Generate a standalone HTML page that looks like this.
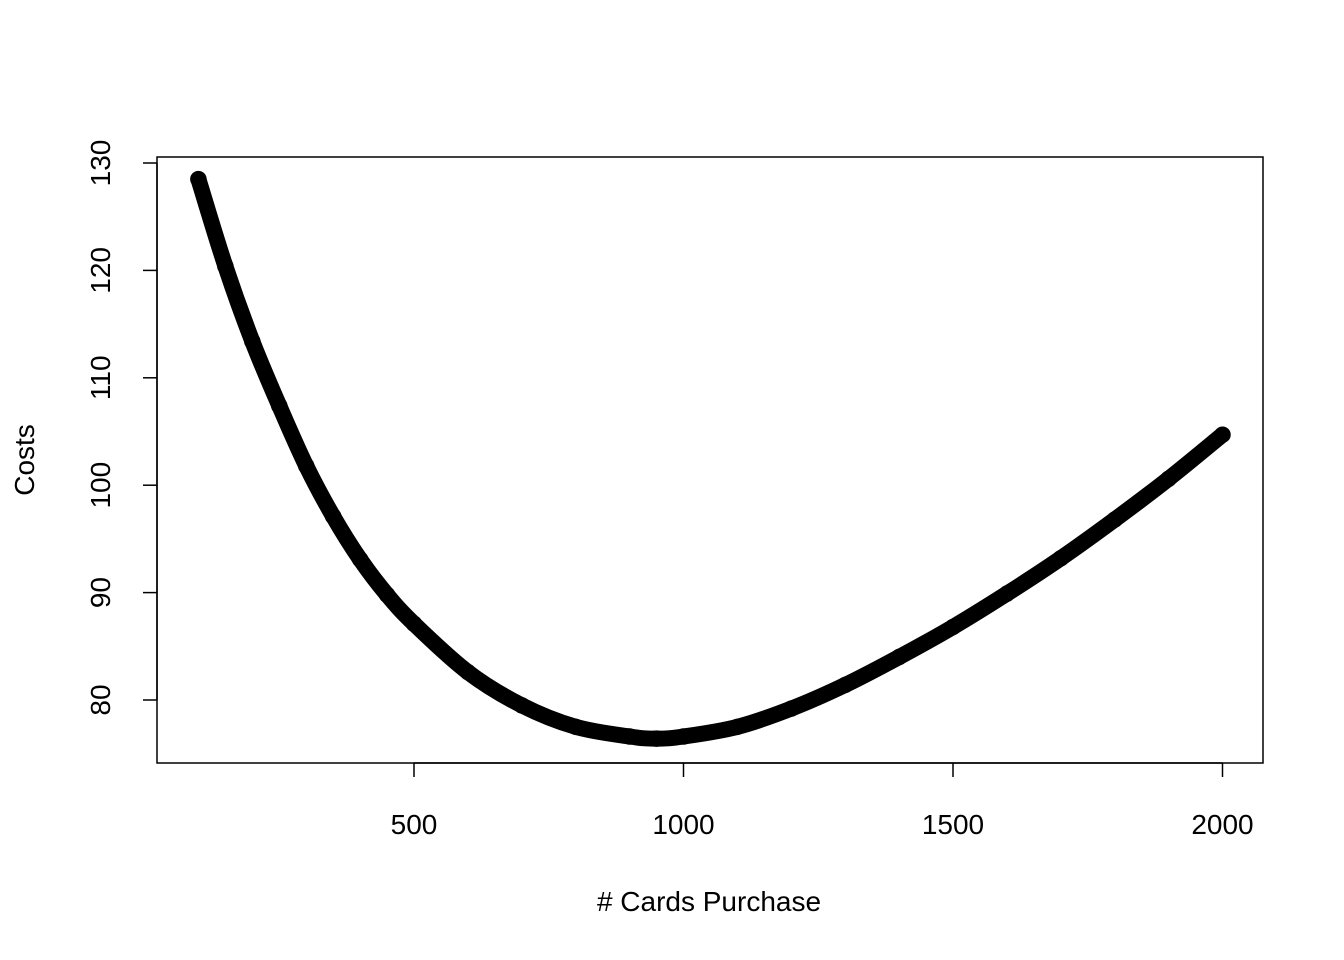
<!DOCTYPE html>
<html><head><meta charset="utf-8"><style>
html,body{margin:0;padding:0;background:#fff;}
svg{display:block;font-family:"Liberation Sans",Arial,sans-serif;}
</style></head><body>
<svg id="chart" width="1344" height="960" viewBox="0 0 1344 960">
<rect x="157" y="157" width="1106" height="606" fill="none" stroke="#000" stroke-width="1.5"/>
<g id="axes"></g>
<g id="marks"></g>
<text x="709" y="911" font-size="28" text-anchor="middle"># Cards Purchase</text>
<text transform="translate(34,460) rotate(-90)" font-size="28" text-anchor="middle">Costs</text>
</svg>
<script>
const quantities=[100,150,200,250,300,350,400,450,500,600,700,800,900,950,1000,1100,1200,1300,1400,1500,1600,1700,1800,1900,2000];
const costs=[128.5,120.4,113.4,107.4,101.8,97.1,93.1,89.8,87.1,82.6,79.5,77.5,76.6,76.4,76.6,77.5,79.2,81.4,84.0,86.8,89.9,93.2,96.8,100.6,104.7];
const xTicks=[500,1000,1500,2000];
const yTicks=[80,90,100,110,120,130];
const NS="http://www.w3.org/2000/svg";
function xs(v){return 414+(v-500)*0.539;}
function ys(v){return 700-(v-80)*10.74;}
const axes=document.getElementById('axes');
function mk(t,a,p){const e=document.createElementNS(NS,t);for(const k in a)e.setAttribute(k,a[k]);p.appendChild(e);return e;}
mk('line',{x1:xs(500),x2:xs(2000),y1:763,y2:763,stroke:'#000','stroke-width':1.5},axes);
xTicks.forEach(t=>{
  const l=mk('line',{x1:xs(t),x2:xs(t),y1:763,y2:777,stroke:'#000','stroke-width':1.5},axes);
  
  
  const tx=mk('text',{x:xs(t),y:834,'font-size':28,'text-anchor':'middle'},axes);
  tx.textContent=t;
  
  
});
mk('line',{x1:157,x2:157,y1:ys(80),y2:ys(130),stroke:'#000','stroke-width':1.5},axes);
yTicks.forEach(t=>{
  const l=mk('line',{x1:143,x2:157,y1:ys(t),y2:ys(t),stroke:'#000','stroke-width':1.5},axes);
  
  
  const tx=mk('text',{transform:`translate(110,${ys(t)}) rotate(-90)`,'font-size':28,'text-anchor':'middle'},axes);
  tx.textContent=t;
  
  
});
const marks=document.getElementById('marks');
const P=quantities.map((q,i)=>[xs(q),ys(costs[i])]);
let d=`M${P[0][0]},${P[0][1]}`;
for(let i=0;i<P.length-1;i++){
  const p0=P[Math.max(0,i-1)],p1=P[i],p2=P[i+1],p3=P[Math.min(P.length-1,i+2)];
  d+=` C${p1[0]+(p2[0]-p0[0])/6},${p1[1]+(p2[1]-p0[1])/6} ${p2[0]-(p3[0]-p1[0])/6},${p2[1]-(p3[1]-p1[1])/6} ${p2[0]},${p2[1]}`;
}
const path=mk('path',{d:d,fill:'none',stroke:'#000','stroke-width':16,'stroke-linecap':'round','stroke-linejoin':'round'},marks);


P.forEach(p=>{
  const c=mk('circle',{cx:p[0],cy:p[1],r:7,fill:'none',stroke:'#000','stroke-width':2.5},marks);
  
  
});
</script>
</body></html>
